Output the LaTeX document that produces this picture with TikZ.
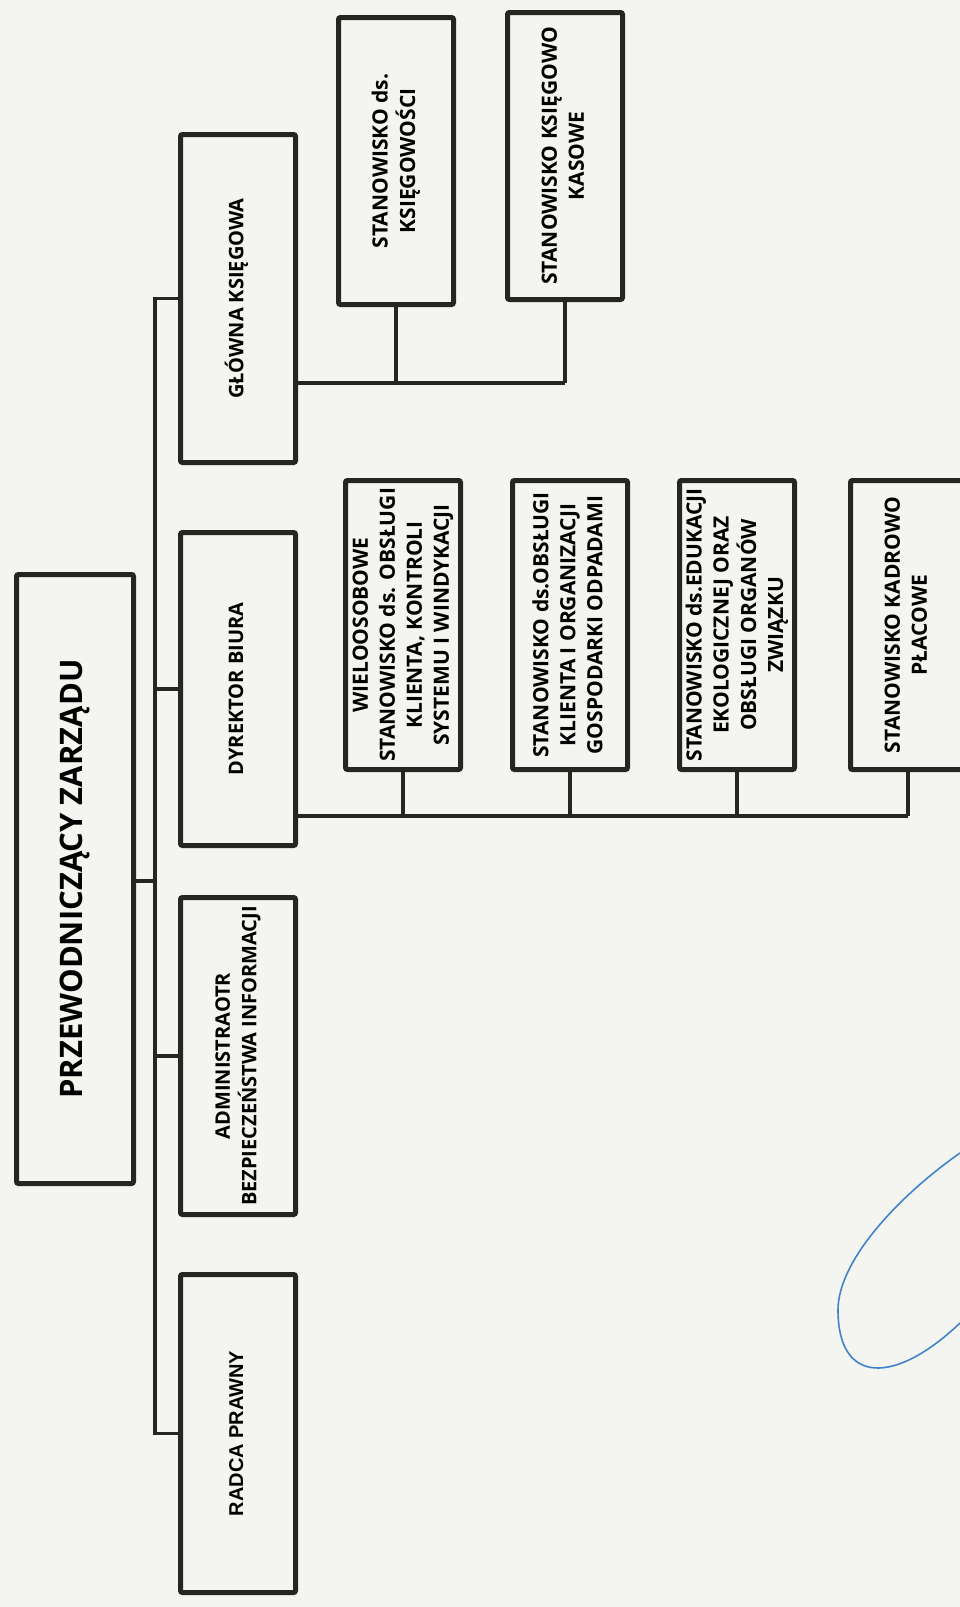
\documentclass[tikz,border=0pt]{standalone}
\usepackage{fontspec}
\setmainfont{Open Sans}
\newfontfamily\arialfont{Liberation Sans}
\usepackage{graphicx}
\usetikzlibrary{positioning}
\definecolor{ink}{RGB}{38,38,32}
\definecolor{paper}{RGB}{244,244,241}
\definecolor{penblue}{RGB}{66,132,204}
\newcommand{\rottext}[1]{\rotatebox{90}{\begin{tabular}{@{}c@{}}#1\end{tabular}}}

\begin{document}
\begin{tikzpicture}[
        x=1pt, y=-1pt,
        node distance=47pt,
        every node/.style={font=\fontsize{20}{26}\selectfont\bfseries, inner sep=0pt},
        orgbox/.style={draw=ink, line width=5pt, rounded corners=2pt, fill=paper, minimum width=115pt},
        postbox/.style={orgbox, font=\fontsize{21}{27}\selectfont\bfseries},
        link/.style={draw=ink, line width=3.5pt}
    ]
        \fill[paper] (0,0) rectangle (960,1607);
        \useasboundingbox (0,0) rectangle (960,1607);

        % chairman and second level
        \node[orgbox, minimum width=117pt, minimum height=609pt, font=\fontsize{31}{36}\selectfont\bfseries] (chair) at (75,879) {\rottext{PRZEWODNICZĄCY ZARZĄDU}};
        \node[orgbox, minimum height=328pt] (gk) at (238,298.5) {\rottext{GŁÓWNA KSIĘGOWA}};
        \node[orgbox, minimum height=313pt] (dyr) at (238,689) {\rottext{DYREKTOR BIURA}};
        \node[orgbox, minimum height=317pt] (adm) at (238,1056) {\rottext{ADMINISTRAOTR\\BEZPIECZEŃSTWA INFORMACJI}};
        \node[orgbox, minimum height=318pt, font=\fontsize{20}{26}\selectfont\arialfont\bfseries] (radca) at (238,1433.5) {\rottext{RADCA PRAWNY}};

        % accounting
        \node[postbox, minimum height=287pt] (ksieg) at (396,161) {\rottext{STANOWISKO ds.\\KSIĘGOWOŚCI}};
        \node[postbox, minimum height=287pt] (kas) at (565,156) {\rottext{STANOWISKO KSIĘGOWO\\KASOWE}};

        % office
        \node[postbox, minimum height=289pt] (s1) at (403,625) {\rottext{WIELOOSOBOWE\\STANOWISKO ds. OBSŁUGI\\KLIENTA, KONTROLI\\SYSTEMU I WINDYKACJI}};
        \node[postbox, minimum height=289pt, right=of s1] (s2) {\rottext{STANOWISKO ds.OBSŁUGI\\KLIENTA I ORGANIZACJI\\GOSPODARKI ODPADAMI}};
        \node[postbox, minimum height=289pt, right=of s2] (s3) {\rottext{STANOWISKO ds.EDUKACJI\\EKOLOGICZNEJ ORAZ\\OBSŁUGI ORGANÓW\\ZWIĄZKU}};
        \node[postbox, minimum height=289pt, right=51pt of s3] (s4) {\rottext{STANOWISKO KADROWO\\PŁACOWE}};

        \coordinate (hub) at (155,881);
        \draw[link] (chair.east |- hub) -- (hub);
        \draw[link] (gk.west) -| (hub) |- (radca.west);
        \draw[link] (dyr.west) -- (dyr.west -| hub);
        \draw[link] (adm.west) -- (adm.west -| hub);

        \coordinate (gkbus) at (298,383);
        \draw[link] (gk.east |- gkbus) -- (kas.south |- gkbus);
        \foreach \s in {ksieg,kas}
            \draw[link] (\s.south) -- (\s.south |- gkbus);

        \coordinate (dyrbus) at (298,816);
        \draw[link] (dyr.east |- dyrbus) -- (s4.south |- dyrbus);
        \foreach \s in {s1,s2,s3,s4}
            \draw[link] (\s.south) -- (\s.south |- dyrbus);

        % pen mark
        \draw[penblue, line width=1.6pt] (960,1153) .. controls (900,1195) and (838,1260) .. (838,1310) .. controls (838,1385) and (895,1385) .. (960,1323);
    \end{tikzpicture}
\end{document}
